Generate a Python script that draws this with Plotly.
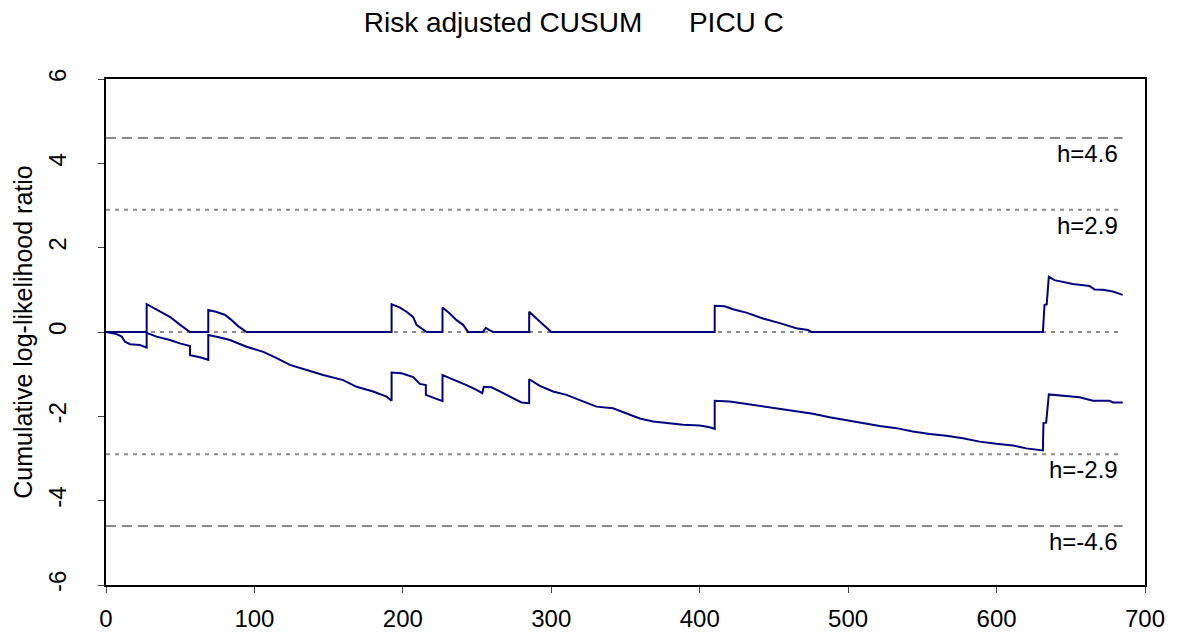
import plotly.graph_objects as go

# Upper CUSUM (signals deterioration)
upper_x = [0, 27.4, 27.4, 35, 43, 50, 56.6, 68.9, 68.9, 74, 80, 84, 89, 94.7,
           192.4, 192.4, 198, 202.5, 207, 209.2, 212.6, 216,
           226.7, 226.7, 231.6, 236.2, 240.6, 244, 254, 255.9, 258, 260.8,
           285.1, 285.1, 290, 294.5, 300,
           410.1, 410.1, 416.8, 422.4, 431.4, 442.6, 453.9, 465.1, 473, 475.2,
           631.2, 632.3, 633.8, 635.2, 639, 644.7, 651.4, 662.6, 666, 671.6, 678.3, 685]
upper_y = [0, 0, 0.66, 0.52, 0.36, 0.17, 0, 0, 0.52, 0.48, 0.41, 0.30, 0.14, 0,
           0, 0.66, 0.58, 0.48, 0.35, 0.17, 0.09, 0,
           0, 0.58, 0.44, 0.28, 0.17, 0, 0, 0.10, 0.05, 0,
           0, 0.48, 0.32, 0.17, 0,
           0, 0.62, 0.61, 0.54, 0.46, 0.32, 0.21, 0.09, 0.05, 0,
           0, 0.64, 0.66, 1.31, 1.23, 1.19, 1.14, 1.09, 1.01, 1.00, 0.96, 0.88]

# Lower CUSUM (signals improvement)
lower_x = [0, 7.2, 10.6, 12.8, 16.2, 22.9, 27.4, 27.4, 34.1, 43.1, 49.8, 56.6, 56.6, 63.3, 68.9,
           68.9, 76.8, 83.5, 94.7, 106, 115, 123.9, 135.2, 146.3, 159.8, 168.8, 180, 189, 192.4,
           192.4, 199.1, 207, 211.4, 215.5, 215.5, 220.4, 226.7,
           226.7, 233.9, 242.9, 249.6, 253.5, 254.5, 259.7, 265.3, 274.3, 279.9, 285.1,
           285.1, 292.3, 301.2, 310.2, 319.2, 330.4, 341.6, 352.9, 359.6, 368.6, 379.8, 388.8, 400, 406.7, 410.1,
           410.1, 420.2, 431.4, 442.6, 453.9, 465.1, 476.3, 487.5, 498.8, 510, 521.2, 532.5, 543.6,
           554.9, 566.1, 577.3, 588.6, 599.8, 611, 620, 631.2,
           631.6, 633.4, 635.2, 642.4, 655.9, 664.9, 676.1, 678.3, 685]
lower_y = [0, -0.05, -0.11, -0.23, -0.29, -0.31, -0.37, -0.02, -0.11, -0.19, -0.27, -0.33, -0.55, -0.60, -0.66,
           -0.07, -0.13, -0.19, -0.35, -0.47, -0.62, -0.78, -0.90, -1.02, -1.14, -1.30, -1.41, -1.53, -1.63,
           -0.96, -0.98, -1.07, -1.23, -1.26, -1.49, -1.55, -1.64,
           -1.02, -1.12, -1.26, -1.37, -1.45, -1.30, -1.31, -1.41, -1.57, -1.67, -1.69,
           -1.12, -1.28, -1.41, -1.49, -1.61, -1.77, -1.81, -1.95, -2.05, -2.12, -2.16, -2.20, -2.22, -2.26, -2.30,
           -1.63, -1.65, -1.71, -1.77, -1.83, -1.89, -1.94, -2.02, -2.09, -2.16, -2.23, -2.28, -2.36,
           -2.42, -2.46, -2.52, -2.60, -2.65, -2.69, -2.76, -2.81,
           -2.16, -2.15, -1.48, -1.51, -1.55, -1.63, -1.63, -1.67, -1.67]

# Control limits
limit_values = [4.6, 2.9, 0, -2.9, -4.6]
limit_dash = ["10px,6px", "4px,5px", "4px,5px", "4px,5px", "10px,6px"]
limit_labels = ["h=4.6", "h=2.9", "", "h=-2.9", "h=-4.6"]
limit_end = 685

x_ticks = [0, 100, 200, 300, 400, 500, 600, 700]
y_ticks = [-6, -4, -2, 0, 2, 4, 6]

NAVY = "#000080"
GREY = "#8a8a8a"
FONT = "Liberation Sans, Arial, sans-serif"

fig = go.Figure()

for v, d in zip(limit_values, limit_dash):
    fig.add_trace(go.Scatter(x=[0, limit_end], y=[v, v], mode="lines",
                             line=dict(color=GREY, width=2, dash=d),
                             hoverinfo="skip", showlegend=False))

fig.add_trace(go.Scatter(x=upper_x, y=upper_y, mode="lines",
                         line=dict(color=NAVY, width=2), showlegend=False))
fig.add_trace(go.Scatter(x=lower_x, y=lower_y, mode="lines",
                         line=dict(color=NAVY, width=2), showlegend=False))

for v, t in zip(limit_values, limit_labels):
    if t:
        fig.add_annotation(x=limit_end - 2, y=v, text=t, showarrow=False,
                           xanchor="right", yanchor="top", yshift=0,
                           font=dict(size=24, color="black", family=FONT))

# page has an 8px body margin, so the figure is 8px smaller than the window
fig.update_layout(
    width=1169, height=626,
    margin=dict(l=98, r=32, t=71, b=49, autoexpand=False),
    paper_bgcolor="white", plot_bgcolor="white",
    font=dict(family=FONT, color="black"),
    title=dict(text="Risk adjusted CUSUM&nbsp;&nbsp;&nbsp;&nbsp;&nbsp;&nbsp;PICU C",
               x=0.484, xanchor="center", y=0.978, yanchor="middle",
               font=dict(size=28, color="black", family=FONT)),
    showlegend=False,
)

fig.update_xaxes(range=[0, 700], tickvals=x_ticks, ticktext=[str(v) for v in x_ticks],
                 showgrid=False, zeroline=False, showline=True, mirror=True,
                 linecolor="black", linewidth=2, ticks="outside", ticklen=6,
                 tickcolor="#444", ticklabelstandoff=5, automargin=False,
                 tickfont=dict(size=24, family=FONT))
fig.update_yaxes(range=[-6, 6], tickvals=y_ticks, ticktext=[str(v) for v in y_ticks],
                 showgrid=False, zeroline=False, showline=True, mirror=True,
                 linecolor="black", linewidth=2, ticks="outside", ticklen=6,
                 tickcolor="#444", tickangle=-90, ticklabelstandoff=22, automargin=False,
                 tickfont=dict(size=24, family=FONT),
                 title=dict(text="Cumulative log-likelihood ratio", standoff=5,
                            font=dict(size=25, family=FONT)))

fig.write_html("out.html")
